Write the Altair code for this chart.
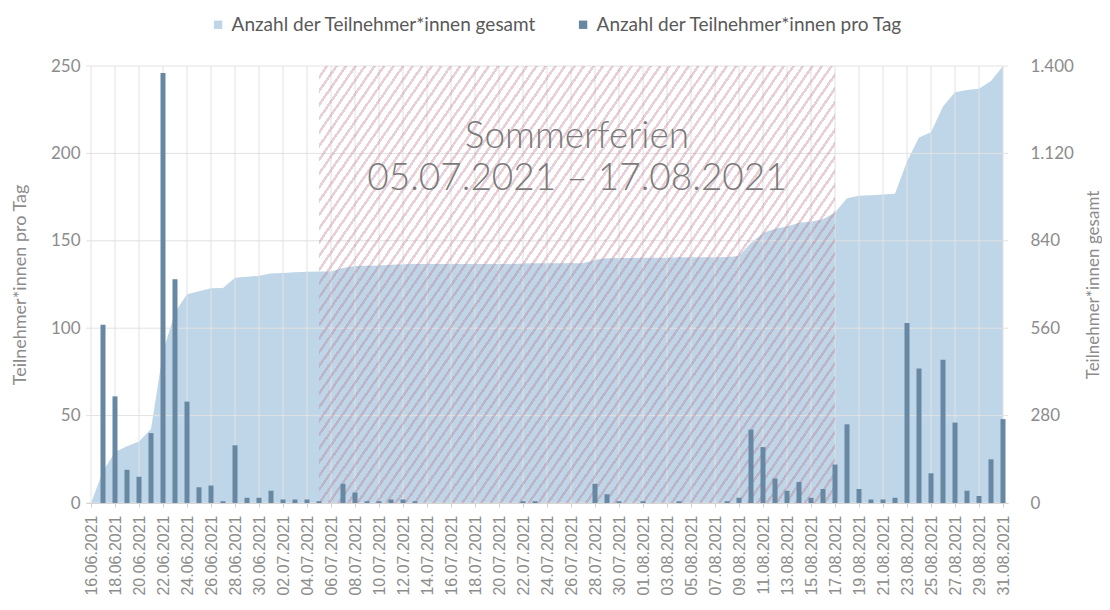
import math
import altair as alt
import pandas as pd

# ---------------- data ----------------
# day index 0 = 16.06.2021 ... 76 = 31.08.2021
daily = [0, 102, 61, 19, 15, 40, 246, 128, 58, 9, 10, 1, 33, 3, 3, 7, 2, 2, 2, 1,
         0, 11, 6, 1, 1, 2, 2, 1, 0, 0, 0, 0, 0, 0, 0, 0, 1, 1, 0, 0,
         0, 0, 11, 5, 1, 0, 1, 0, 0, 1, 0, 0, 0, 1, 3, 42, 32, 14, 7, 12,
         3, 8, 22, 45, 8, 2, 2, 3, 103, 77, 17, 82, 46, 7, 4, 25, 48]
cumulative = [0, 102, 163, 182, 197, 237, 483, 611, 669, 678, 688, 689, 722, 725, 728, 735, 737, 739, 741, 742,
              742, 753, 759, 760, 761, 763, 765, 766, 766, 766, 766, 766, 766, 766, 766, 766, 767, 768, 768, 768,
              768, 768, 779, 784, 785, 785, 786, 786, 786, 787, 787, 787, 787, 788, 791, 833, 865, 879, 886, 898,
              901, 909, 931, 976, 984, 986, 988, 991, 1094, 1171, 1188, 1270, 1316, 1323, 1327, 1352, 1400]
tick_days = list(range(0, 77, 2))
left_ticks = [0, 50, 100, 150, 200, 250]
right_ticks = [0, 280, 560, 840, 1120, 1400]
holiday_start = [19]   # 05.07.2021
holiday_end = [62]     # 17.08.2021
holiday_label = ["Sommerferien\n05.07.2021 \u2013 17.08.2021"]
series = ["Anzahl der Teilnehmer*innen gesamt", "Anzahl der Teilnehmer*innen pro Tag"]
series_colors = ["#bed6e7", "#6887a2"]

df = pd.DataFrame({"day": list(range(len(daily))), "daily": daily, "cum": cumulative})
hol = pd.DataFrame({"start": holiday_start, "end": holiday_end, "label": holiday_label})

# ---------------- style ----------------
W, H = 922, 437
GREY = "#8c8c8c"

# hatch pattern via hard-stop linear gradient (objectBoundingBox units)
rect_w = (holiday_end[0] - holiday_start[0]) * W / 76.0
theta = math.radians(55)
period = 9.6
r = H / (rect_w * math.tan(theta))
k = (1 + r) / (1 + r * r)
n_stripes = int(round(rect_w * (1 + r) / period))
clear = "rgba(255,255,255,0)"
pink = "rgba(190,115,140,0.34)"
stops = []
for i in range(n_stripes):
    a = i / n_stripes
    b = (i + 0.68) / n_stripes
    c = (i + 1) / n_stripes
    stops += [alt.GradientStop(offset=a, color=clear), alt.GradientStop(offset=b, color=clear),
              alt.GradientStop(offset=b, color=pink), alt.GradientStop(offset=c, color=pink)]
hatch = alt.LinearGradient(gradient="linear", stops=stops, x1=0, y1=0, x2=k, y2=k * r)

x_scale = alt.Scale(domain=[0, 76], nice=False, zero=False)
x_axis = alt.Axis(values=tick_days,
                  labelExpr="timeFormat(datetime(2021, 5, 16 + datum.value), '%d.%m.%Y')",
                  labelAngle=270, labelFont="Liberation Sans", labelFontSize=16, labelColor=GREY,
                  labelPadding=8, labelOverlap=False, labelFlush=False,
                  ticks=True, tickSize=4, tickColor="#d0d0d0", domainColor="#c8c8c8",
                  grid=False, title=None)
yl_scale = alt.Scale(domain=[0, 250], nice=False)
yl_axis = alt.Axis(values=left_ticks, title="Teilnehmer*innen pro Tag", titleFont="Lato", titleFontSize=18,
                   titleFontWeight="normal", titleColor=GREY, titleAngle=270, titleX=-66, titleY=H / 2,
                   titleAlign="center", titleBaseline="middle",
                   labelFont="Lato", labelFontSize=17, labelColor=GREY, labelPadding=6,
                   ticks=False, domain=False, grid=False)
yr_scale = alt.Scale(domain=[0, 1400], nice=False)
yr_axis = alt.Axis(orient="right", values=right_ticks,
                   labelExpr="replace(format(datum.value, ','), ',', '.')",
                   title="Teilnehmer*innen gesamt", titleFont="Lato", titleFontSize=17,
                   titleFontWeight="normal", titleColor=GREY, titleAngle=270, titleX=85, titleY=H / 2,
                   titleAlign="center", titleBaseline="middle",
                   labelFont="Lato", labelFontSize=17, labelColor=GREY, labelPadding=22,
                   ticks=False, domain=False, grid=False)
color_scale = alt.Scale(domain=series, range=series_colors)
legend = alt.Legend(orient="none", legendX=122.6, legendY=-51, direction="horizontal", title=None,
                    symbolType="square", symbolSize=70, symbolStrokeWidth=0, symbolOpacity=1,
                    labelFont="Lato", labelFontSize=19, labelColor="#595959", labelLimit=500,
                    columnPadding=37, labelOffset=4, padding=0)

X = alt.X("day:Q", scale=x_scale, axis=x_axis)

area = alt.Chart(df).transform_calculate(series=f"'{series[0]}'").mark_area(
    opacity=1, interpolate="linear").encode(
    x=X,
    y=alt.Y("cum:Q", scale=yr_scale, axis=yr_axis),
    color=alt.Color("series:N", scale=color_scale, legend=legend),
)

vgrid = alt.Chart(pd.DataFrame({"day": tick_days})).mark_rule(color="#e2e2e2", strokeWidth=1).encode(x=X)
hgrid = alt.Chart(pd.DataFrame({"v": left_ticks})).mark_rule(color="#e2e2e2", strokeWidth=1).encode(
    y=alt.Y("v:Q", scale=yl_scale, axis=yl_axis))

rect = alt.Chart(hol).mark_rect(fill=hatch).encode(
    x=alt.X("start:Q", scale=x_scale, axis=x_axis), x2="end:Q")

bars = alt.Chart(df).transform_calculate(series=f"'{series[1]}'").mark_bar(size=5).encode(
    x=X,
    y=alt.Y("daily:Q", scale=yl_scale, axis=yl_axis),
    color=alt.Color("series:N", scale=color_scale, legend=legend),
)

text = alt.Chart(hol).transform_calculate(mid="(datum.start + datum.end) / 2").mark_text(
    font="Lato", fontSize=37, fontWeight=300, color="#7a7a7a", align="center", baseline="alphabetic",
    lineBreak="\n", lineHeight=42).encode(
    x=alt.X("mid:Q", scale=x_scale, axis=x_axis),
    y=alt.value(82),
    text="label:N",
)

inner = alt.layer(vgrid, hgrid, rect, bars, text)

chart = alt.layer(area, inner).resolve_scale(y="independent").properties(
    width=W, height=H,
    autosize=alt.AutoSizeParams(type="none"),
    padding={"left": 78, "top": 58, "right": 94, "bottom": 99},
).configure_view(stroke=None)

chart.save("out.html", embed_options={"renderer": "svg", "actions": False})
